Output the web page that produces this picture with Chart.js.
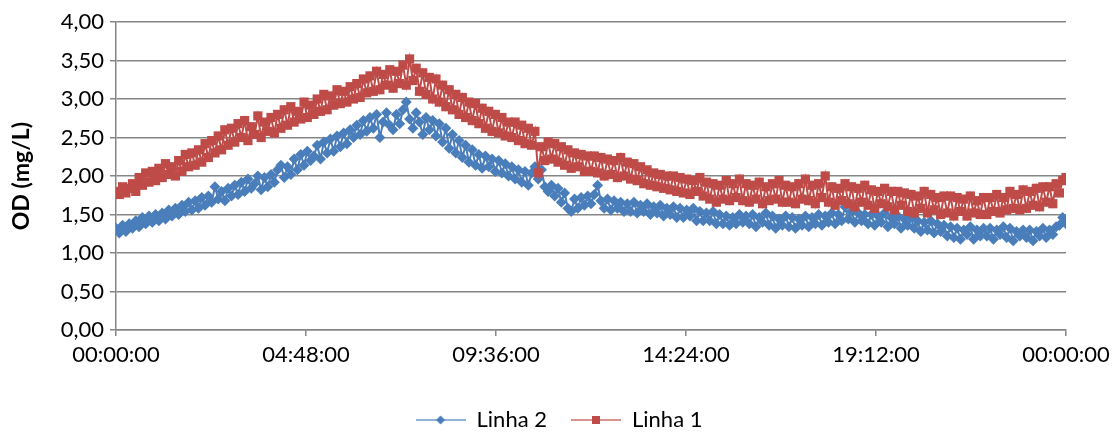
<!DOCTYPE html>
<html>
<head>
<meta charset="utf-8">
<script src="https://cdn.jsdelivr.net/npm/chart.js@4/dist/chart.umd.min.js"></script>
<style>
html, body { margin: 0; padding: 0; background: #fff; }
</style>
</head>
<body>
<canvas id="odChart" width="1120" height="433"></canvas>
<script>
// OD readings, one every 5 minutes from 00:00 to 24:00 (12 per row = 1 hour)
var stepMin = 5;

var linha1 = [
  1.80, 1.76, 1.86, 1.78, 1.84, 1.90, 1.80, 1.98, 1.88, 2.04, 1.92, 2.06,
  1.94, 2.10, 1.98, 2.16, 2.02, 2.12, 2.00, 2.20, 2.06, 2.28, 2.12, 2.30,
  2.14, 2.34, 2.18, 2.42, 2.24, 2.46, 2.30, 2.52, 2.34, 2.60, 2.40, 2.62,
  2.44, 2.68, 2.50, 2.72, 2.46, 2.64, 2.54, 2.78, 2.50, 2.70, 2.58, 2.76,
  2.56, 2.80, 2.62, 2.86, 2.66, 2.90, 2.70, 2.84, 2.74, 2.96, 2.76, 2.92,
  2.80, 3.00, 2.84, 3.06, 2.86, 3.04, 2.92, 3.12, 2.94, 3.10, 2.96, 3.16,
  3.00, 3.20, 3.02, 3.26, 3.08, 3.30, 3.10, 3.36, 3.12, 3.32, 3.18, 3.38,
  3.14, 3.36, 3.20, 3.44, 3.18, 3.52, 3.24, 3.40, 3.10, 3.34, 3.06, 3.28,
  3.00, 3.26, 2.96, 3.18, 2.90, 3.12, 2.86, 3.06, 2.80, 3.02, 2.76, 2.96,
  2.72, 2.94, 2.68, 2.88, 2.62, 2.84, 2.58, 2.80, 2.56, 2.76, 2.52, 2.70,
  2.50, 2.70, 2.46, 2.66, 2.42, 2.62, 2.40, 2.58, 2.04, 2.38, 2.20, 2.44,
  2.22, 2.42, 2.18, 2.38, 2.14, 2.34, 2.10, 2.30, 2.12, 2.28, 2.06, 2.26,
  2.06, 2.26, 2.04, 2.24, 2.00, 2.22, 2.02, 2.20, 1.98, 2.24, 2.00, 2.18,
  1.96, 2.16, 1.94, 2.12, 1.90, 2.08, 1.88, 2.04, 1.86, 2.02, 1.84, 2.00,
  1.82, 2.00, 1.80, 1.98, 1.78, 1.96, 1.76, 1.94, 1.80, 1.98, 1.74, 1.92,
  1.70, 1.90, 1.66, 1.88, 1.70, 1.94, 1.68, 1.90, 1.72, 1.96, 1.68, 1.90,
  1.66, 1.88, 1.70, 1.92, 1.64, 1.86, 1.68, 1.90, 1.70, 1.94, 1.66, 1.88,
  1.66, 1.86, 1.64, 1.90, 1.70, 1.96, 1.68, 1.88, 1.64, 1.90, 1.72, 2.00,
  1.66, 1.86, 1.62, 1.84, 1.68, 1.90, 1.64, 1.86, 1.60, 1.84, 1.66, 1.88,
  1.62, 1.82, 1.58, 1.80, 1.64, 1.84, 1.60, 1.80, 1.56, 1.80, 1.62, 1.78,
  1.54, 1.76, 1.52, 1.74, 1.58, 1.80, 1.52, 1.76, 1.56, 1.72, 1.50, 1.74,
  1.52, 1.74, 1.48, 1.72, 1.54, 1.70, 1.48, 1.74, 1.52, 1.68, 1.50, 1.72,
  1.50, 1.72, 1.54, 1.76, 1.52, 1.72, 1.56, 1.80, 1.58, 1.76, 1.56, 1.82,
  1.58, 1.80, 1.62, 1.84, 1.60, 1.86, 1.66, 1.86, 1.64, 1.90, 1.78, 1.94,
  1.98
];

var linha2 = [
  1.32, 1.26, 1.36, 1.28, 1.38, 1.32, 1.42, 1.34, 1.46, 1.38, 1.48, 1.40,
  1.50, 1.42, 1.52, 1.44, 1.56, 1.48, 1.58, 1.50, 1.62, 1.54, 1.66, 1.56,
  1.68, 1.58, 1.72, 1.62, 1.74, 1.66, 1.86, 1.70, 1.80, 1.68, 1.84, 1.74,
  1.88, 1.76, 1.92, 1.80, 1.96, 1.84, 1.90, 2.00, 1.82, 1.98, 1.86, 2.02,
  1.92, 2.08, 2.14, 1.98, 2.12, 2.02, 2.22, 2.08, 2.28, 2.14, 2.32, 2.20,
  2.26, 2.40, 2.22, 2.44, 2.30, 2.48, 2.32, 2.52, 2.38, 2.56, 2.42, 2.60,
  2.50, 2.66, 2.54, 2.72, 2.58, 2.76, 2.62, 2.80, 2.50, 2.70, 2.82, 2.66,
  2.60, 2.80, 2.68, 2.86, 2.96, 2.74, 2.62, 2.82, 2.70, 2.54, 2.76, 2.60,
  2.72, 2.52, 2.68, 2.44, 2.62, 2.36, 2.54, 2.30, 2.46, 2.24, 2.40, 2.18,
  2.34, 2.14, 2.28, 2.10, 2.26, 2.12, 2.22, 2.06, 2.20, 2.04, 2.16, 2.00,
  2.12, 1.96, 2.08, 1.92, 2.06, 1.88, 2.04, 2.12, 1.96, 2.08, 1.86, 1.80,
  1.88, 1.74, 1.84, 1.66, 1.78, 1.58, 1.54, 1.70, 1.58, 1.72, 1.62, 1.74,
  1.64, 1.76, 1.88, 1.68, 1.58, 1.70, 1.56, 1.68, 1.58, 1.66, 1.54, 1.64,
  1.54, 1.66, 1.52, 1.62, 1.54, 1.64, 1.50, 1.60, 1.52, 1.62, 1.48, 1.58,
  1.50, 1.60, 1.46, 1.58, 1.46, 1.56, 1.48, 1.58, 1.42, 1.54, 1.42, 1.52,
  1.42, 1.54, 1.38, 1.50, 1.38, 1.48, 1.36, 1.46, 1.38, 1.50, 1.40, 1.48,
  1.38, 1.50, 1.34, 1.46, 1.40, 1.52, 1.36, 1.48, 1.32, 1.44, 1.36, 1.48,
  1.34, 1.46, 1.32, 1.44, 1.36, 1.48, 1.34, 1.46, 1.38, 1.50, 1.36, 1.48,
  1.40, 1.52, 1.38, 1.50, 1.42, 1.60, 1.44, 1.54, 1.40, 1.52, 1.42, 1.50,
  1.38, 1.50, 1.36, 1.48, 1.40, 1.52, 1.34, 1.46, 1.38, 1.48, 1.32, 1.44,
  1.36, 1.46, 1.32, 1.42, 1.28, 1.40, 1.30, 1.42, 1.26, 1.38, 1.28, 1.36,
  1.22, 1.34, 1.20, 1.32, 1.18, 1.30, 1.24, 1.34, 1.18, 1.30, 1.22, 1.32,
  1.22, 1.32, 1.18, 1.30, 1.24, 1.34, 1.20, 1.32, 1.16, 1.28, 1.22, 1.30,
  1.20, 1.30, 1.16, 1.28, 1.22, 1.32, 1.20, 1.30, 1.24, 1.34, 1.36, 1.46,
  1.38
];

var xTickMinutes = [0, 288, 576, 864, 1152, 1440];
var xTickLabels = ["00:00:00", "04:48:00", "09:36:00", "14:24:00", "19:12:00", "00:00:00"];

var blue = "#4A7EBB";
var red = "#BE4B48";
var gridGray = "#868686";
var fontFamily = "Lato, 'DejaVu Sans', sans-serif";

function toPoints(values) {
  return values.map(function (v, i) { return { x: i * stepMin, y: v }; });
}

// legend icon: short line with the marker in the middle
function legendIcon(color, shape) {
  var c = document.createElement("canvas");
  c.width = 50; c.height = 12;
  var g = c.getContext("2d");
  g.strokeStyle = color; g.globalAlpha = 0.6; g.lineWidth = 2;
  g.beginPath(); g.moveTo(0, 6); g.lineTo(50, 6); g.stroke();
  g.globalAlpha = 1; g.fillStyle = color;
  if (shape === "rect") {
    g.fillRect(21, 2, 8, 8);
  } else {
    g.beginPath(); g.moveTo(25, 1.5); g.lineTo(29.5, 6); g.lineTo(25, 10.5); g.lineTo(20.5, 6); g.closePath(); g.fill();
  }
  return c;
}
var legendIcons = [legendIcon(red, "rect"), legendIcon(blue, "rectRot")];

new Chart("odChart", {
  type: "line",
  data: {
    datasets: [{
      label: "Linha 1",
      data: toPoints(linha1),
      borderColor: red,
      backgroundColor: red,
      borderWidth: 2,
      pointStyle: "rect",
      pointRadius: 6.5,
      pointBorderWidth: 0,
      tension: 0
    }, {
      label: "Linha 2",
      data: toPoints(linha2),
      borderColor: blue,
      backgroundColor: blue,
      borderWidth: 2,
      pointStyle: "rectRot",
      pointRadius: 5.5,
      pointBorderWidth: 0,
      tension: 0
    }]
  },
  options: {
    responsive: false,
    animation: false,
    devicePixelRatio: 1,
    layout: { padding: { left: 6, right: 8, top: 22, bottom: -8 } },
    plugins: {
      tooltip: { enabled: false },
      legend: {
        position: "bottom",
        labels: {
          usePointStyle: true,
          pointStyleWidth: 50,
          padding: 24,
          color: "#000",
          font: { family: fontFamily, size: 22 },
          sort: function (a, b) { return b.datasetIndex - a.datasetIndex; },
          generateLabels: function (chart) {
            var items = Chart.defaults.plugins.legend.labels.generateLabels(chart);
            items.forEach(function (it) { it.pointStyle = legendIcons[it.datasetIndex]; });
            return items;
          }
        }
      }
    },
    scales: {
      x: {
        type: "linear",
        min: 0,
        max: 1440,
        afterBuildTicks: function (scale) {
          scale.ticks = xTickMinutes.map(function (m) { return { value: m }; });
        },
        afterFit: function (scale) {
          scale.height = 55;
          scale.paddingRight = 54;
        },
        ticks: {
          autoSkip: false,
          maxRotation: 0,
          padding: 6,
          color: "#000",
          font: { family: fontFamily, size: 22 },
          callback: function (value, index) { return xTickLabels[index]; }
        },
        grid: { drawOnChartArea: false, drawTicks: true, tickLength: 6, color: gridGray, lineWidth: 1.5 },
        border: { color: gridGray, width: 1.5 }
      },
      y: {
        min: 0,
        max: 4,
        afterFit: function (scale) { scale.width = 110; },
        ticks: {
          stepSize: 0.5,
          padding: 6,
          color: "#000",
          font: { family: fontFamily, size: 22 },
          callback: function (value) { return value.toFixed(2).replace(".", ","); }
        },
        title: {
          display: true,
          text: "OD (mg/L)",
          color: "#000",
          font: { family: fontFamily, size: 23, weight: "bold" },
          padding: { top: 2, bottom: 4 }
        },
        grid: { color: gridGray, lineWidth: 1.5, tickLength: 6 },
        border: { color: gridGray, width: 1.5 }
      }
    }
  }
});
</script>
</body>
</html>
